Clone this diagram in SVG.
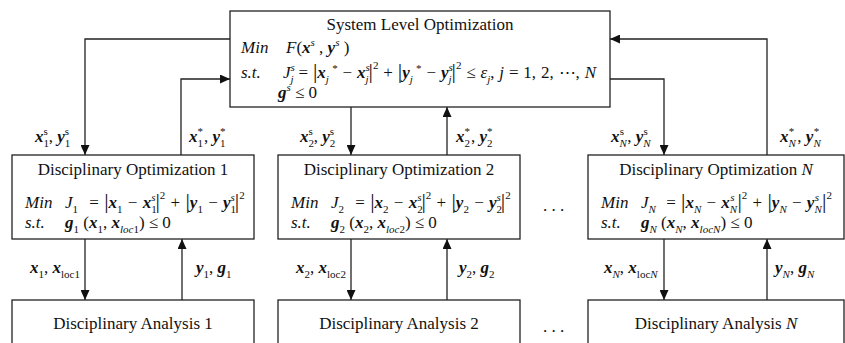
<svg xmlns="http://www.w3.org/2000/svg" width="845" height="343" viewBox="0 0 845 343">
<defs>
<marker id="ah" markerWidth="10" markerHeight="9" refX="10" refY="4.5" orient="auto" markerUnits="userSpaceOnUse"><path d="M0,0 L10,4.5 L0,9 z" fill="#111"/></marker>
</defs>
<style>
.box{fill:#fff;stroke:#222;stroke-width:1.3}
.ln{fill:none;stroke:#222;stroke-width:1.3;marker-end:url(#ah)}
text{font-family:"Liberation Serif","Times New Roman",serif;font-size:17px;fill:#111}
.i{font-style:italic}
.b{font-style:italic;font-weight:bold}
.s{font-size:11px}
.bar{font-size:22px}
.mid{text-anchor:middle}
.eq{word-spacing:1px}
</style>
<rect width="845" height="343" fill="#fff"/>

<g id="connectors">
<polyline class="ln" points="230,39 85,39 85,155"/>
<polyline class="ln" points="181,155 181,79 230,79"/>
<polyline class="ln" points="351,107 351,155"/>
<polyline class="ln" points="447,155 447,107"/>
<polyline class="ln" points="767,155 767,39 610,39"/>
<polyline class="ln" points="610,79 664,79 664,155"/>
<polyline class="ln" points="85,239 85,300"/>
<polyline class="ln" points="182,300 182,239"/>
<polyline class="ln" points="351,239 351,300"/>
<polyline class="ln" points="447,300 447,239"/>
<polyline class="ln" points="664,239 664,300"/>
<polyline class="ln" points="767,300 767,239"/>
</g>

<g id="system">
<rect class="box" x="230" y="11" width="380" height="96"/>
<text class="mid" x="420" y="30">System Level Optimization</text>
<text y="53"><tspan x="241" class="i">Min</tspan><tspan x="286" class="i">F</tspan><tspan>(</tspan><tspan class="b">x</tspan><tspan class="s i" dy="-7">s</tspan><tspan dy="7"> , </tspan><tspan class="b">y</tspan><tspan class="s i" dy="-7">s</tspan><tspan dy="7"> )</tspan></text>
<text y="78" style="word-spacing:0.6px"><tspan x="241" class="i">s.t.</tspan><tspan x="283" class="i">J</tspan><tspan class="s i" dy="-7">s</tspan><tspan class="s i" dx="-4.3" dy="11.5">j</tspan><tspan dy="-4.5"> = </tspan><tspan class="bar">|</tspan><tspan class="b">x</tspan><tspan class="s i" dy="4.5">j</tspan><tspan class="s" dy="-11"> *</tspan><tspan dy="6.5"> − </tspan><tspan class="b">x</tspan><tspan class="s i" dy="-7">s</tspan><tspan class="s i" dx="-4.3" dy="11.5">j</tspan><tspan class="bar" dy="-4.5">|</tspan><tspan class="s" dy="-9">2</tspan><tspan dy="9"> + </tspan><tspan class="bar">|</tspan><tspan class="b">y</tspan><tspan class="s i" dy="4.5">j</tspan><tspan class="s" dy="-11"> *</tspan><tspan dy="6.5"> − </tspan><tspan class="b">y</tspan><tspan class="s i" dy="-7">s</tspan><tspan class="s i" dx="-4.3" dy="11.5">j</tspan><tspan class="bar" dy="-4.5">|</tspan><tspan class="s" dy="-9">2</tspan><tspan dy="9"> ≤ </tspan><tspan class="i">ε</tspan><tspan class="s i" dy="4.5">j</tspan><tspan dy="-4.5">,   </tspan><tspan class="i">j</tspan><tspan> = 1, 2, ⋯, </tspan><tspan class="i">N</tspan></text>
<text y="98"><tspan x="278" class="b">g</tspan><tspan class="s i" dy="-7">s</tspan><tspan dy="7"> ≤ 0</tspan></text>
</g>

<g id="do1">
<rect class="box" x="12" y="155" width="242" height="84"/>
<text class="mid" x="133" y="175">Disciplinary Optimization 1</text>
<text y="208" class="eq"><tspan x="25" class="i">Min</tspan><tspan x="65" class="i">J</tspan><tspan class="s" dy="4.5">1</tspan><tspan dx="6" dy="-4.5"> = </tspan><tspan class="bar">|</tspan><tspan class="b">x</tspan><tspan class="s" dy="4.5">1</tspan><tspan dy="-4.5"> − </tspan><tspan class="b">x</tspan><tspan class="s" dy="4.5">1</tspan><tspan class="s i" dx="-5.5" dy="-11.5">s</tspan><tspan class="bar" dy="7">|</tspan><tspan class="s" dy="-9">2</tspan><tspan dy="9"> + </tspan><tspan class="bar">|</tspan><tspan class="b">y</tspan><tspan class="s" dy="4.5">1</tspan><tspan dy="-4.5"> − </tspan><tspan class="b">y</tspan><tspan class="s" dy="4.5">1</tspan><tspan class="s i" dx="-5.5" dy="-11.5">s</tspan><tspan class="bar" dy="7">|</tspan><tspan class="s" dy="-9">2</tspan></text>
<text y="228"><tspan x="25" class="i">s.t.</tspan><tspan x="65" class="b">g</tspan><tspan class="s" dy="4.5">1</tspan><tspan dy="-4.5"> (</tspan><tspan class="b">x</tspan><tspan class="s" dy="4.5">1</tspan><tspan dy="-4.5">, </tspan><tspan class="b">x</tspan><tspan class="s i" dy="4.5">loc</tspan><tspan class="s">1</tspan><tspan dy="-4.5">) ≤ 0</tspan></text>
</g>

<g id="do2">
<rect class="box" x="278" y="155" width="242" height="84"/>
<text class="mid" x="399" y="175">Disciplinary Optimization 2</text>
<text y="208" class="eq"><tspan x="291" class="i">Min</tspan><tspan x="331" class="i">J</tspan><tspan class="s" dy="4.5">2</tspan><tspan dx="6" dy="-4.5"> = </tspan><tspan class="bar">|</tspan><tspan class="b">x</tspan><tspan class="s" dy="4.5">2</tspan><tspan dy="-4.5"> − </tspan><tspan class="b">x</tspan><tspan class="s" dy="4.5">2</tspan><tspan class="s i" dx="-5.5" dy="-11.5">s</tspan><tspan class="bar" dy="7">|</tspan><tspan class="s" dy="-9">2</tspan><tspan dy="9"> + </tspan><tspan class="bar">|</tspan><tspan class="b">y</tspan><tspan class="s" dy="4.5">2</tspan><tspan dy="-4.5"> − </tspan><tspan class="b">y</tspan><tspan class="s" dy="4.5">2</tspan><tspan class="s i" dx="-5.5" dy="-11.5">s</tspan><tspan class="bar" dy="7">|</tspan><tspan class="s" dy="-9">2</tspan></text>
<text y="228"><tspan x="291" class="i">s.t.</tspan><tspan x="331" class="b">g</tspan><tspan class="s" dy="4.5">2</tspan><tspan dy="-4.5"> (</tspan><tspan class="b">x</tspan><tspan class="s" dy="4.5">2</tspan><tspan dy="-4.5">, </tspan><tspan class="b">x</tspan><tspan class="s i" dy="4.5">loc</tspan><tspan class="s">2</tspan><tspan dy="-4.5">) ≤ 0</tspan></text>
</g>

<g id="doN">
<rect class="box" x="588" y="155" width="256" height="84"/>
<text x="716" y="175" class="mid">Disciplinary Optimization <tspan class="i">N</tspan></text>
<text y="208" class="eq"><tspan x="601" class="i">Min</tspan><tspan x="641" class="i">J</tspan><tspan class="s i" dy="4.5">N</tspan><tspan dx="5" dy="-4.5"> = </tspan><tspan class="bar">|</tspan><tspan class="b">x</tspan><tspan class="s i" dy="4.5">N</tspan><tspan dy="-4.5"> − </tspan><tspan class="b">x</tspan><tspan class="s i" dy="4.5">N</tspan><tspan class="s i" dx="-7" dy="-11.5">s</tspan><tspan class="bar" dx="3" dy="7">|</tspan><tspan class="s" dy="-9">2</tspan><tspan dy="9"> + </tspan><tspan class="bar">|</tspan><tspan class="b">y</tspan><tspan class="s i" dy="4.5">N</tspan><tspan dy="-4.5"> − </tspan><tspan class="b">y</tspan><tspan class="s i" dy="4.5">N</tspan><tspan class="s i" dx="-7" dy="-11.5">s</tspan><tspan class="bar" dx="3" dy="7">|</tspan><tspan class="s" dy="-9">2</tspan></text>
<text y="228"><tspan x="601" class="i">s.t.</tspan><tspan x="641" class="b">g</tspan><tspan class="s i" dy="4.5">N</tspan><tspan dy="-4.5"> (</tspan><tspan class="b">x</tspan><tspan class="s i" dy="4.5">N</tspan><tspan dy="-4.5">, </tspan><tspan class="b">x</tspan><tspan class="s i" dy="4.5">locN</tspan><tspan dy="-4.5">) ≤ 0</tspan></text>
</g>

<g id="da1">
<rect class="box" x="12" y="300" width="242" height="60"/>
<text class="mid" x="133" y="329">Disciplinary Analysis 1</text>
</g>
<g id="da2">
<rect class="box" x="278" y="300" width="242" height="60"/>
<text class="mid" x="399" y="329">Disciplinary Analysis 2</text>
</g>
<g id="daN">
<rect class="box" x="588" y="300" width="256" height="60"/>
<text class="mid" x="716" y="329">Disciplinary Analysis <tspan class="i">N</tspan></text>
</g>

<g id="labels">
<text x="35" y="142"><tspan class="b">x</tspan><tspan class="s" dy="4.5">1</tspan><tspan class="s" dx="-5.5" dy="-11.5">s</tspan><tspan dx="1" dy="7">, </tspan><tspan class="b">y</tspan><tspan class="s" dy="4.5">1</tspan><tspan class="s" dx="-5.5" dy="-11.5">s</tspan></text>
<text x="189" y="142"><tspan class="b">x</tspan><tspan class="s" dy="4.5">1</tspan><tspan class="s" dx="-5.5" dy="-11.5">*</tspan><tspan dx="1" dy="7">, </tspan><tspan class="b">y</tspan><tspan class="s" dy="4.5">1</tspan><tspan class="s" dx="-5.5" dy="-11.5">*</tspan></text>
<text x="300" y="142"><tspan class="b">x</tspan><tspan class="s" dy="4.5">2</tspan><tspan class="s" dx="-5.5" dy="-11.5">s</tspan><tspan dx="1" dy="7">, </tspan><tspan class="b">y</tspan><tspan class="s" dy="4.5">2</tspan><tspan class="s" dx="-5.5" dy="-11.5">s</tspan></text>
<text x="456" y="142"><tspan class="b">x</tspan><tspan class="s" dy="4.5">2</tspan><tspan class="s" dx="-5.5" dy="-11.5">*</tspan><tspan dx="1" dy="7">, </tspan><tspan class="b">y</tspan><tspan class="s" dy="4.5">2</tspan><tspan class="s" dx="-5.5" dy="-11.5">*</tspan></text>
<text x="611" y="142"><tspan class="b">x</tspan><tspan class="s i" dy="4.5">N</tspan><tspan class="s" dx="-7" dy="-11.5">s</tspan><tspan dx="3" dy="7">, </tspan><tspan class="b">y</tspan><tspan class="s i" dy="4.5">N</tspan><tspan class="s" dx="-7" dy="-11.5">s</tspan></text>
<text x="780" y="142"><tspan class="b">x</tspan><tspan class="s i" dy="4.5">N</tspan><tspan class="s" dx="-7" dy="-11.5">*</tspan><tspan dx="3" dy="7">, </tspan><tspan class="b">y</tspan><tspan class="s i" dy="4.5">N</tspan><tspan class="s" dx="-7" dy="-11.5">*</tspan></text>
<text x="30" y="273"><tspan class="b">x</tspan><tspan class="s" dy="4.5">1</tspan><tspan dy="-4.5">, </tspan><tspan class="b">x</tspan><tspan class="s" dy="4.5">loc1</tspan></text>
<text x="196" y="273"><tspan class="b">y</tspan><tspan class="s" dy="4.5">1</tspan><tspan dy="-4.5">, </tspan><tspan class="b">g</tspan><tspan class="s" dy="4.5">1</tspan></text>
<text x="296" y="273"><tspan class="b">x</tspan><tspan class="s" dy="4.5">2</tspan><tspan dy="-4.5">, </tspan><tspan class="b">x</tspan><tspan class="s" dy="4.5">loc2</tspan></text>
<text x="459" y="273"><tspan class="b">y</tspan><tspan class="s" dy="4.5">2</tspan><tspan dy="-4.5">, </tspan><tspan class="b">g</tspan><tspan class="s" dy="4.5">2</tspan></text>
<text x="604" y="273"><tspan class="b">x</tspan><tspan class="s i" dy="4.5">N</tspan><tspan dy="-4.5">, </tspan><tspan class="b">x</tspan><tspan class="s" dy="4.5">loc</tspan><tspan class="s i">N</tspan></text>
<text x="775" y="273"><tspan class="b">y</tspan><tspan class="s i" dy="4.5">N</tspan><tspan dy="-4.5">, </tspan><tspan class="b">g</tspan><tspan class="s i" dy="4.5">N</tspan></text>
</g>

<g id="dots">
<text x="543" y="211">. . .</text>
<text x="543" y="332">. . .</text>
</g>
</svg>
